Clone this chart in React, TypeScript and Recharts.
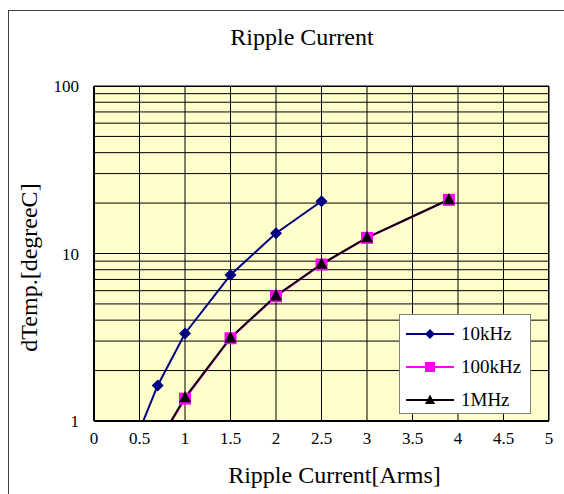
import React from "react";
import {
  CartesianGrid,
  Legend,
  Line,
  LineChart,
  ReferenceArea,
  XAxis,
  YAxis,
} from "recharts";

// readings
const x10k = [0.5, 0.7, 1, 1.5, 2, 2.5];
const y10k = [0.88, 1.63, 3.33, 7.45, 13.2, 20.5];
const x100k = [0.5, 1, 1.5, 2, 2.5, 3, 3.9];
const y100k = [0.48, 1.36, 3.12, 5.55, 8.6, 12.4, 20.9];
const x1M = [0.5, 1, 1.5, 2, 2.5, 3, 3.9];
const y1M = [0.48, 1.38, 3.14, 5.6, 8.65, 12.45, 21.0];

const xTicks = [0, 0.5, 1, 1.5, 2, 2.5, 3, 3.5, 4, 4.5, 5];
const yTicks = [1, 2, 3, 4, 5, 6, 7, 8, 9, 10, 20, 30, 40, 50, 60, 70, 80, 90, 100];
const yLabels = [1, 10, 100];

const FONT = '"Liberation Serif", "Times New Roman", serif';

const toPoints = (xs: number[], ys: number[]) =>
  xs.map((x, i) => ({ x, y: ys[i] }));

const series = [
  { name: "10kHz", color: "#000080", marker: "diamond", data: toPoints(x10k, y10k) },
  { name: "100kHz", color: "#FF00FF", marker: "square", data: toPoints(x100k, y100k) },
  { name: "1MHz", color: "#000000", marker: "triangle", data: toPoints(x1M, y1M) },
];

const markerPath = (kind: string, cx: number, cy: number, s: number) => {
  if (kind === "diamond") {
    return `M${cx},${cy - s}L${cx + s},${cy}L${cx},${cy + s}L${cx - s},${cy}Z`;
  }
  if (kind === "square") {
    return `M${cx - s},${cy - s}h${2 * s}v${2 * s}h${-2 * s}Z`;
  }
  return `M${cx},${cy - s * 1.1}L${cx + s},${cy + s * 0.8}L${cx - s},${cy + s * 0.8}Z`;
};

const makeDot = (kind: string, color: string, size: number) => (props: any) => {
  const { cx, cy, index } = props;
  if (cx == null || cy == null) return <g key={`d-${kind}-${index}`} />;
  return (
    <path
      key={`d-${kind}-${index}`}
      d={markerPath(kind, cx, cy, size)}
      fill={color}
      stroke="none"
    />
  );
};

const LegendBox = () => (
  <div
    style={{
      width: 132,
      height: 100,
      background: "#FFFFFF",
      border: "1px solid #808080",
      fontFamily: FONT,
      fontSize: 19,
      boxSizing: "border-box",
      paddingTop: 2,
    }}
  >
    {series.map((s) => (
      <div
        key={s.name}
        style={{ display: "flex", alignItems: "center", height: 33, paddingLeft: 5 }}
      >
        <svg width={50} height={14}>
          <line x1={1} y1={7} x2={49} y2={7} stroke={s.color} strokeWidth={2} />
          <path d={markerPath(s.marker, 25, 7, 5)} fill={s.color} />
        </svg>
        <span style={{ marginLeft: 6, color: "#000" }}>{s.name}</span>
      </div>
    ))}
  </div>
);

const XTitle = (props: any) => {
  const vb = props.viewBox;
  return (
    <text
      x={vb.x + vb.width / 2 + 13}
      y={vb.y + vb.height + 2}
      textAnchor="middle"
      fontFamily={FONT}
      fontSize={24}
      fill="#000"
    >
      Ripple Current[Arms]
    </text>
  );
};

const YTitle = (props: any) => {
  const vb = props.viewBox;
  const cx = vb.x - 5;
  const cy = vb.y + vb.height / 2 + 14;
  return (
    <text
      x={cx}
      y={cy}
      textAnchor="middle"
      dominantBaseline="central"
      transform={`rotate(-90, ${cx}, ${cy})`}
      fontFamily={FONT}
      fontSize={24}
      fill="#000"
    >
      dTemp.[degreeC]
    </text>
  );
};

export default function App() {
  return (
    <div
      style={{
        position: "absolute",
        left: 0,
        top: 0,
        width: 564,
        height: 494,
        overflow: "hidden",
        background: "#FFFFFF",
      }}
    >
      <div
        style={{
          position: "absolute",
          left: 8,
          top: 10,
          width: 700,
          height: 700,
          border: "1px solid #404040",
        }}
      />
      <div
        style={{
          position: "absolute",
          left: 0,
          top: 24,
          width: 604,
          textAlign: "center",
          fontFamily: FONT,
          fontSize: 24,
          lineHeight: "normal",
        }}
      >
        Ripple Current
      </div>
      <div style={{ position: "absolute", left: 0, top: 0 }}>
        <LineChart
          width={564}
          height={494}
          margin={{ top: 86, right: 15, left: 34, bottom: 13 }}
          style={{ fontFamily: FONT }}
        >
          <CartesianGrid
            fill="#FFFFCC"
            stroke="#000000"
            strokeOpacity={1}
            horizontalValues={yTicks}
            verticalValues={xTicks}
          />
          <XAxis
            type="number"
            dataKey="x"
            domain={[0, 5]}
            ticks={xTicks}
            allowDataOverflow
            height={60}
            tickLine={false}
            tickMargin={5}
            axisLine={{ stroke: "#000", strokeWidth: 2 }}
            tick={{ fill: "#000", fontSize: 17, fontFamily: FONT }}
            label={<XTitle />}
          />
          <YAxis
            type="number"
            dataKey="y"
            scale="log"
            domain={[1, 100]}
            ticks={yTicks}
            allowDataOverflow
            width={60}
            tickLine={false}
            tickMargin={9}
            axisLine={{ stroke: "#000", strokeWidth: 2 }}
            interval={0}
            tickFormatter={(v: number) => (yLabels.includes(v) ? String(v) : "")}
            tick={{ fill: "#000", fontSize: 17, fontFamily: FONT }}
            label={<YTitle />}
          />
          <ReferenceArea
            x1={0}
            x2={5}
            y1={1}
            y2={100}
            fill="none"
            stroke="#000"
            strokeWidth={2}
            ifOverflow="hidden"
          />
          {series.map((s) => (
            <Line
              key={s.name}
              data={s.data}
              dataKey="y"
              name={s.name}
              type="linear"
              stroke={s.color}
              strokeWidth={2}
              dot={makeDot(s.marker, s.color, 6)}
              activeDot={false}
              isAnimationActive={false}
            />
          ))}
          <Legend
            layout="vertical"
            align="center"
            verticalAlign="middle"
            wrapperStyle={{ left: 399, top: 314, width: 132 }}
            content={() => <LegendBox />}
          />
        </LineChart>
      </div>
    </div>
  );
}
